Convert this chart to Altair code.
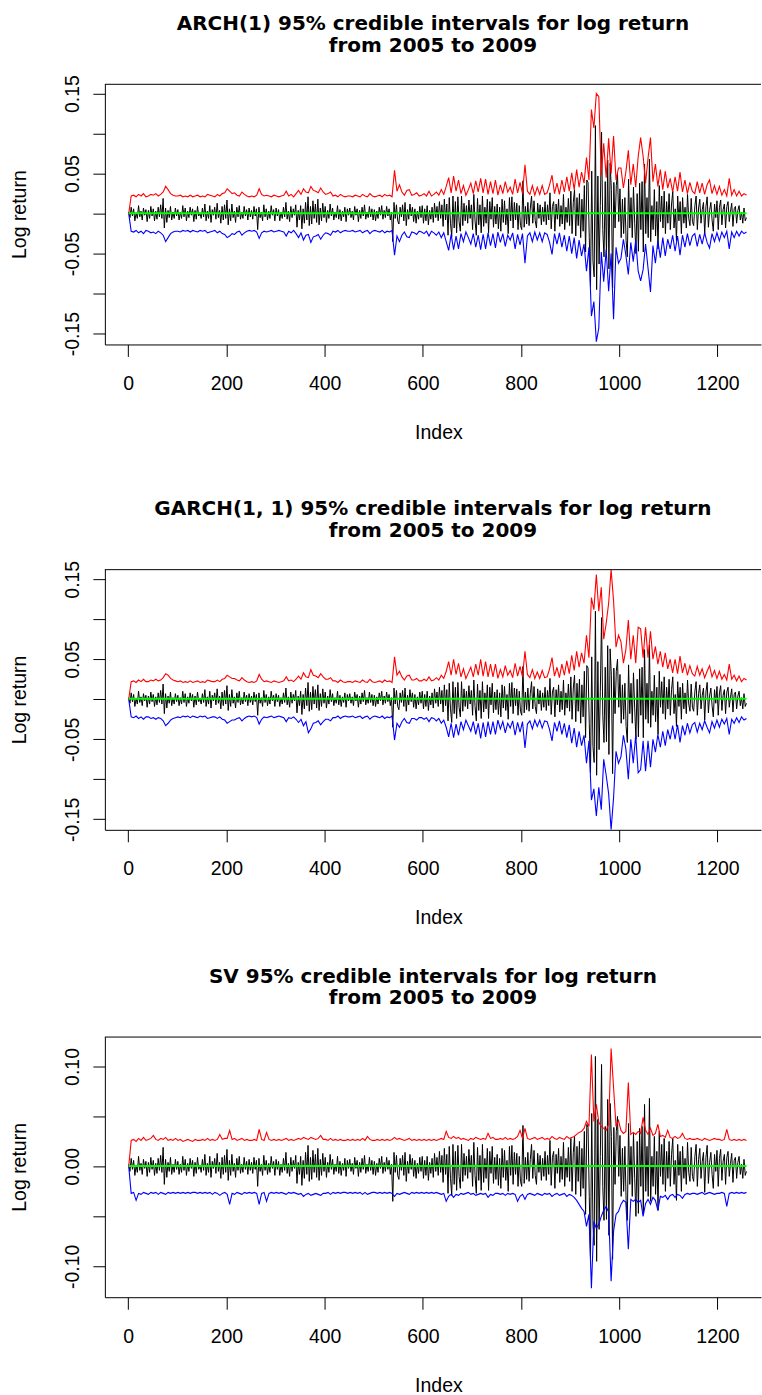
import altair as alt
import numpy as np
import pandas as pd

# Daily log return (black line), read about every 2.5 trading days, in thousandths
log_return_permille = [
    2, -5, 8, -3, 6, -9, 1, -6, 10, -4, 3, -8, 7, -2, 5, -10, 4, -6, 9, -3,
    6, -9, 3, -7, 8, -4, 11, -6, 19, -18, 7, -11, 4, -5, 9, -8, 2, -6, 7, -3,
    5, -8, 2, -6, 10, -4, 7, -9, 3, -5, 8, -2, 6, -10, 4, -7, 9, -3, 1, -6,
    7, -4, 12, -9, 3, -6, 10, -11, 5, -2, 8, -7, 13, -5, 4, -12, 9, -8, 11, -6,
    17, -14, 6, -9, 12, -5, 3, -11, 8, -4, 10, -7, 2, -6, 9, -3, 5, -8, 7, -4,
    4, -7, 9, -3, 6, -20, 8, -5, 2, -9, 11, -4, 6, -8, 3, -6, 10, -2, 5, -9,
    7, -3, 5, -9, 2, -6, 8, -4, 14, -7, 3, -10, 9, -5, 6, -2, 11, -17, 4, -8,
    10, -19, 6, -12, 14, -8, 21, -15, 9, -13, 16, -6, 12, -11, 18, -14, 7, -9, 13, -5,
    9, -11, 4, -6, 12, -3, 7, -8, 2, -5, 10, -7, 5, -9, 3, -4, 8, -10, 6, -2,
    7, -5, 3, -8, 9, -2, 6, -10, 4, -6, 8, -3, 11, -7, 2, -5, 9, -4, 6, -8,
    5, -9, 3, -6, 8, -2, 10, -7, 4, -5, 9, -3, 6, -8, 2, -35, 14, -6, 11, -9,
    -13, 8, -4, 11, -9, 14, -15, 5, -7, 12, -3, 8, -10, 6, -12, 3, -7, 9, -5, 10,
    -12, 6, -9, 10, -14, 4, -7, 8, -11, 13, -5, 9, -9, 15, -6, 11, -16, 18, -8, 12,
    -27, 20, -12, -29, 22, -18, 15, -24, 21, -10, -22, 22, -15, 13, -9, 10, -12, 17, -6, 11,
    -20, 24, -9, -27, 19, -14, 11, -24, 22, -16, 8, -12, 18, -24, 15, -7, 20, -17, 9, -13,
    12, -19, 8, -22, 18, -11, 16, -14, 6, -25, 20, -9, 21, -18, 14, -8, 13, -20, 10, -15,
    -20, 41, -17, 9, -13, 14, -15, 7, 22, -12, 16, -9, -18, 13, -6, 11, -14, 8, -10, 15,
    -14, 11, -8, 26, -19, 9, 15, -22, 12, -7, 18, -16, 10, -13, 24, -20, 8, -11, 19, -15,
    28, -25, 14, 30, -28, 20, -15, 25, -30, 18, -22, 35, -48, 42, 39, -30, -92, 53, -59, -79,
    110, -95, 47, -63, 10, 102, -20, -54, 40, -53, 67, -69, 63, 30, -93, 39, -18, 35, 50, -10,
    31, -30, 18, -25, 20, -34, -54, 43, -18, 20, -30, 33, -12, -50, 25, -47, 38, -20, 40, -48,
    62, -25, 20, -30, 68, -35, 10, -20, 30, -28, 15, -44, 35, -10, 22, -18, 28, -25, 15, -12,
    25, -20, 12, 28, -18, 6, -34, 22, -9, 15, -25, 20, -12, 8, -18, 24, -6, -15, 19, -10,
    -15, 10, 22, -20, 7, 18, -12, 5, 14, -26, 9, 21, -17, 4, 14, -8, -22, 12, -5, 16,
    -20, 8, 17, -14, 5, 12, -18, 9, 15, -10, 3, 13, -16, 6, 9, -12, 4, 10, -8, 2,
    -12, 7, -9, -5,
]

# ARCH(1) 95% interval bounds, read about every 5 trading days (thousandths)
arch_upper_permille = [
    0, 22, 23, 21, 24, 22, 25, 21, 22, 24,
    23, 25, 22, 24, 27, 34, 30, 25, 23, 22,
    22, 23, 21, 22, 21, 23, 21, 22, 23, 21,
    22, 21, 24, 23, 22, 21, 24, 22, 25, 26,
    31, 28, 25, 26, 23, 22, 27, 24, 22, 21,
    22, 21, 23, 31, 24, 22, 23, 22, 21, 23,
    22, 21, 22, 23, 28, 22, 24, 21, 25, 29,
    24, 31, 27, 26, 34, 29, 28, 26, 32, 27,
    24, 25, 27, 22, 23, 21, 24, 22, 21, 22,
    22, 21, 23, 22, 21, 24, 22, 21, 25, 22,
    21, 22, 23, 21, 24, 22, 23, 21, 54, 28,
    36, 27, 23, 29, 30, 23, 24, 26, 22, 23,
    25, 22, 28, 22, 24, 27, 23, 30, 24, 34,
    45, 26, 47, 28, 42, 25, 35, 23, 30, 38,
    25, 41, 27, 44, 26, 43, 24, 40, 25, 42,
    23, 36, 25, 40, 27, 33, 24, 43, 26, 39,
    25, 61, 28, 24, 35, 23, 33, 24, 35, 24,
    26, 36, 48, 25, 38, 24, 42, 27, 46, 28,
    51, 30, 55, 33, 52, 38, 70, 42, 130, 107,
    150, 146, 48, 88, 45, 94, 50, 97, 42, 57,
    57, 32, 52, 79, 36, 62, 33, 71, 95, 72,
    38, 69, 95, 40, 62, 34, 55, 30, 53, 32,
    44, 27, 46, 28, 52, 27, 42, 25, 39, 28,
    25, 40, 26, 38, 24, 36, 42, 25, 35, 24,
    34, 23, 30, 22, 44, 23, 30, 22, 28, 22, 25, 23,
]
arch_lower_permille = [
    0, -22, -23, -21, -24, -22, -25, -21, -22, -24,
    -23, -25, -22, -24, -27, -35, -30, -25, -23, -22,
    -22, -23, -21, -22, -21, -23, -21, -22, -23, -21,
    -22, -21, -24, -23, -22, -21, -24, -22, -25, -26,
    -30, -28, -25, -26, -23, -22, -27, -24, -22, -21,
    -22, -21, -23, -31, -24, -22, -23, -22, -21, -23,
    -22, -21, -22, -23, -28, -22, -24, -21, -25, -30,
    -24, -33, -27, -26, -36, -29, -28, -26, -32, -27,
    -24, -25, -27, -22, -23, -21, -24, -22, -21, -22,
    -22, -21, -23, -22, -21, -24, -22, -21, -25, -22,
    -21, -22, -23, -21, -24, -22, -23, -21, -52, -28,
    -35, -27, -23, -29, -30, -23, -24, -26, -22, -23,
    -25, -22, -28, -22, -24, -27, -23, -30, -24, -35,
    -46, -26, -45, -28, -44, -25, -35, -23, -30, -38,
    -25, -42, -27, -45, -26, -44, -24, -40, -25, -43,
    -23, -36, -25, -41, -27, -33, -24, -44, -26, -39,
    -25, -62, -28, -24, -35, -23, -33, -24, -35, -24,
    -26, -36, -51, -25, -38, -24, -42, -27, -47, -28,
    -50, -30, -56, -33, -53, -38, -72, -42, -128, -110,
    -160, -143, -48, -85, -45, -97, -50, -132, -42, -62,
    -56, -32, -52, -76, -36, -60, -33, -72, -84, -70,
    -38, -68, -98, -40, -62, -34, -55, -30, -53, -32,
    -44, -27, -47, -28, -52, -27, -42, -25, -40, -28,
    -25, -41, -26, -38, -24, -36, -43, -25, -35, -24,
    -34, -23, -30, -22, -44, -23, -30, -22, -28, -22, -25, -23,
]

# GARCH(1, 1) 95% interval bounds (thousandths)
garch_upper_permille = [
    0, 22, 23, 21, 24, 22, 25, 22, 22, 24,
    23, 25, 23, 24, 27, 32, 30, 26, 24, 23,
    22, 23, 21, 22, 21, 23, 21, 22, 23, 21,
    22, 21, 24, 23, 22, 22, 24, 22, 25, 26,
    30, 28, 26, 26, 24, 23, 27, 24, 22, 21,
    22, 21, 23, 31, 25, 22, 23, 22, 21, 23,
    22, 21, 22, 23, 28, 23, 24, 22, 25, 29,
    25, 33, 28, 27, 37, 30, 29, 27, 32, 28,
    25, 25, 27, 23, 23, 21, 24, 22, 21, 22,
    22, 21, 23, 22, 21, 24, 22, 21, 25, 22,
    21, 22, 23, 21, 24, 22, 23, 21, 53, 30,
    35, 28, 24, 29, 30, 24, 24, 26, 23, 23,
    25, 23, 28, 23, 24, 27, 24, 30, 26, 35,
    47, 30, 50, 31, 45, 28, 38, 26, 33, 40,
    28, 44, 30, 50, 29, 47, 28, 44, 28, 44,
    26, 37, 28, 42, 30, 36, 27, 45, 29, 41,
    28, 60, 31, 27, 37, 26, 34, 26, 36, 27,
    28, 38, 52, 29, 40, 27, 44, 30, 48, 32,
    55, 36, 60, 40, 58, 45, 80, 52, 127, 112,
    156, 110, 140, 75, 95, 120, 162, 123, 65, 80,
    72, 45, 62, 99, 50, 80, 45, 90, 88, 52,
    90, 52, 85, 50, 66, 44, 60, 40, 58, 38,
    50, 33, 50, 32, 54, 33, 45, 30, 42, 32,
    29, 41, 30, 38, 27, 35, 42, 28, 36, 26,
    35, 25, 31, 24, 44, 25, 30, 23, 29, 22, 26, 24,
]
garch_lower_permille = [
    0, -22, -23, -21, -24, -22, -25, -22, -22, -24,
    -23, -25, -23, -24, -27, -33, -30, -26, -24, -23,
    -22, -23, -21, -22, -21, -23, -21, -22, -23, -21,
    -22, -21, -24, -23, -22, -22, -24, -22, -25, -26,
    -30, -28, -26, -26, -24, -23, -27, -24, -22, -21,
    -22, -21, -23, -31, -25, -22, -23, -22, -21, -23,
    -22, -21, -22, -23, -28, -23, -24, -22, -25, -29,
    -25, -33, -28, -42, -37, -30, -29, -27, -32, -28,
    -25, -25, -27, -23, -23, -21, -24, -22, -21, -22,
    -22, -21, -23, -22, -21, -24, -22, -21, -25, -22,
    -21, -22, -23, -21, -24, -22, -23, -21, -51, -30,
    -35, -28, -24, -29, -30, -24, -24, -26, -23, -23,
    -25, -23, -28, -23, -24, -27, -24, -30, -26, -35,
    -47, -30, -48, -31, -45, -28, -38, -26, -33, -40,
    -28, -44, -30, -49, -29, -47, -28, -44, -28, -44,
    -26, -37, -28, -42, -30, -36, -27, -45, -29, -41,
    -28, -61, -31, -27, -37, -26, -34, -26, -36, -27,
    -28, -38, -52, -29, -40, -27, -44, -30, -48, -32,
    -55, -36, -60, -40, -58, -45, -80, -52, -126, -112,
    -146, -110, -138, -75, -95, -118, -163, -123, -65, -80,
    -72, -45, -62, -100, -50, -80, -45, -92, -88, -52,
    -90, -52, -85, -50, -66, -44, -60, -40, -58, -38,
    -50, -33, -50, -32, -54, -33, -45, -30, -42, -32,
    -29, -41, -30, -38, -27, -35, -42, -28, -36, -26,
    -35, -25, -31, -24, -44, -25, -30, -23, -29, -22, -26, -24,
]

# SV 95% interval bounds (thousandths)
sv_upper_permille = [
    0, 26, 27, 25, 28, 26, 29, 26, 27, 28,
    31, 27, 26, 28, 27, 29, 26, 27, 26, 28,
    26, 27, 25, 26, 27, 26, 25, 27, 26, 26,
    27, 26, 28, 26, 27, 26, 27, 32, 27, 28,
    28, 36, 27, 28, 26, 27, 28, 26, 27, 26,
    26, 27, 26, 37, 27, 26, 34, 27, 26, 27,
    26, 27, 26, 27, 28, 26, 27, 26, 27, 28,
    27, 29, 28, 27, 29, 28, 27, 28, 31, 27,
    27, 26, 28, 26, 27, 26, 27, 26, 26, 27,
    26, 27, 26, 27, 26, 28, 26, 30, 27, 26,
    26, 27, 26, 27, 26, 27, 26, 27, 29, 27,
    28, 27, 26, 27, 28, 26, 27, 26, 27, 26,
    27, 26, 27, 26, 27, 26, 27, 28, 27, 35,
    29, 28, 30, 28, 29, 27, 28, 27, 26, 28,
    27, 29, 28, 27, 28, 27, 33, 28, 29, 27,
    27, 28, 27, 29, 27, 28, 27, 28, 30, 36,
    28, 38, 28, 27, 28, 29, 27, 28, 29, 27,
    28, 27, 30, 28, 27, 29, 28, 27, 30, 28,
    29, 30, 32, 34, 35, 38, 45, 40, 112, 45,
    62, 44, 40, 38, 36, 42, 118, 79, 40, 46,
    36, 33, 35, 84, 32, 34, 32, 35, 33, 49,
    36, 32, 38, 31, 33, 42, 30, 31, 29, 36,
    29, 28, 30, 28, 29, 33, 28, 27, 28, 27,
    27, 28, 27, 26, 28, 27, 26, 27, 28, 27,
    27, 26, 27, 37, 27, 26, 27, 26, 27, 26, 27, 26,
]
sv_lower_permille = [
    0, -27, -26, -34, -27, -28, -26, -27, -28, -26,
    -27, -26, -28, -26, -27, -28, -26, -27, -26, -27,
    -26, -27, -26, -27, -26, -27, -26, -26, -27, -26,
    -27, -26, -27, -26, -28, -26, -27, -29, -27, -26,
    -28, -38, -27, -28, -26, -27, -28, -26, -27, -26,
    -27, -26, -27, -38, -27, -26, -35, -27, -26, -27,
    -26, -27, -26, -27, -28, -26, -27, -26, -27, -28,
    -27, -30, -28, -27, -29, -28, -27, -28, -29, -27,
    -27, -26, -28, -26, -27, -26, -27, -26, -26, -27,
    -26, -27, -26, -27, -26, -28, -26, -28, -27, -26,
    -26, -27, -26, -27, -26, -27, -26, -27, -30, -27,
    -28, -27, -26, -27, -28, -26, -27, -26, -27, -26,
    -27, -26, -27, -26, -27, -26, -27, -28, -27, -35,
    -30, -28, -31, -28, -29, -27, -28, -27, -26, -28,
    -27, -29, -28, -27, -28, -27, -31, -28, -29, -27,
    -27, -28, -27, -29, -27, -28, -27, -28, -35, -30,
    -28, -33, -28, -27, -28, -29, -27, -28, -29, -27,
    -28, -27, -30, -28, -27, -29, -28, -27, -30, -28,
    -29, -31, -34, -38, -42, -45, -60, -48, -122, -55,
    -62, -58, -50, -44, -40, -46, -115, -65, -48, -45,
    -38, -34, -36, -83, -33, -35, -33, -36, -34, -50,
    -37, -33, -38, -31, -34, -44, -30, -31, -29, -33,
    -29, -28, -31, -28, -29, -32, -28, -27, -28, -27,
    -27, -28, -27, -26, -28, -27, -26, -27, -28, -27,
    -27, -26, -27, -40, -27, -26, -27, -26, -27, -26, -27, -26,
]

posterior_mean = 0.0005
first_index, last_index = 1, 1259

titles = [
    "ARCH(1) 95% credible intervals for log return",
    "GARCH(1, 1) 95% credible intervals for log return",
    "SV 95% credible intervals for log return",
]
subtitle_line = "from 2005 to 2009"

ret_df = pd.DataFrame({
    "Index": np.linspace(first_index, last_index, len(log_return_permille)),
    "ret": np.array(log_return_permille) / 1000.0,
})
band_df = pd.DataFrame({
    "Index": np.linspace(first_index, last_index, len(arch_upper_permille)),
    "arch_up": np.array(arch_upper_permille) / 1000.0,
    "arch_lo": np.array(arch_lower_permille) / 1000.0,
    "garch_up": np.array(garch_upper_permille) / 1000.0,
    "garch_lo": np.array(garch_lower_permille) / 1000.0,
    "sv_up": np.array(sv_upper_permille) / 1000.0,
    "sv_lo": np.array(sv_lower_permille) / 1000.0,
})
mean_df = pd.DataFrame({"start": [first_index], "end": [last_index], "mean": [posterior_mean]})

FONT = "Liberation Sans"
TITLE_FONT = "DejaVu Sans"
W = 657
H = 261
XDOM = [-47.6, 1288.6]
LABEL_FS = 19.5


def panel(title, up_col, lo_col, ydom, yticks, shown):
    xscale = alt.Scale(domain=XDOM, nice=False, zero=False)
    yscale = alt.Scale(domain=ydom, nice=False, zero=False)
    cond = " || ".join(f"abs(datum.value - ({v})) < 1e-6" for v in shown)
    label_expr = (f"({cond}) ? (datum.value < 0 ? '-' : '') + "
                  f"format(abs(datum.value), '.2f') : ''")
    x_axis = alt.Axis(
        values=[0, 200, 400, 600, 800, 1000, 1200], format="d",
        grid=False, tickSize=12, tickColor="black", domainColor="black",
        labelFont=FONT, labelFontSize=LABEL_FS, labelColor="black",
        labelBaseline="alphabetic", labelPadding=33, labelAlign="center",
        labelFlush=False, labelOverlap=False, labelAngle=0,
        title="Index", titleFont=FONT, titleFontSize=LABEL_FS,
        titleFontWeight="normal", titleColor="black", titleAlign="center",
        titleBaseline="alphabetic", titleX=334, titleY=94,
    )
    y_axis = alt.Axis(
        values=yticks, labelExpr=label_expr, grid=False,
        tickSize=12, tickColor="black", domainColor="black",
        labelFont=FONT, labelFontSize=LABEL_FS, labelColor="black",
        labelAngle=270, labelAlign="center", labelBaseline="alphabetic",
        labelPadding=14.6, labelFlush=False, labelOverlap=False,
        title="Log return", titleFont=FONT, titleFontSize=LABEL_FS,
        titleFontWeight="normal", titleColor="black", titleAngle=270,
        titleAlign="center", titleBaseline="alphabetic",
        titleX=-79, titleY=H / 2,
    )
    X = lambda f: alt.X(f"{f}:Q", scale=xscale, axis=x_axis, title="Index")
    Y = lambda f: alt.Y(f"{f}:Q", scale=yscale, axis=y_axis, title="Log return")
    black = alt.Chart(ret_df).mark_line(color="black", strokeWidth=1.0, clip=True).encode(
        x=X("Index"), y=Y("ret"))
    red = alt.Chart(band_df).mark_line(color="#ff0000", strokeWidth=1.1, clip=True).encode(
        x=X("Index"), y=Y(up_col))
    blue = alt.Chart(band_df).mark_line(color="#0000ff", strokeWidth=1.1, clip=True).encode(
        x=X("Index"), y=Y(lo_col))
    green = alt.Chart(mean_df).mark_rule(color="#00ff00", strokeWidth=2).encode(
        x=X("start"), x2="end:Q", y=Y("mean"))
    top = alt.Chart(mean_df).mark_rule(color="black", strokeWidth=1).encode(
        x=alt.value(0), x2=alt.value(W), y=alt.value(0.5))
    tstyle = dict(font=TITLE_FONT, fontSize=20, fontWeight="bold",
                  color="black", align="center", baseline="alphabetic")
    t1 = alt.Chart(mean_df).mark_text(**tstyle).encode(
        x=alt.value(W / 2), y=alt.value(-54), text=alt.value(title))
    t2 = alt.Chart(mean_df).mark_text(**tstyle).encode(
        x=alt.value(W / 2), y=alt.value(-32.3), text=alt.value(subtitle_line))
    return alt.layer(black, red, blue, green, top, t1, t2).properties(width=W, height=H)


def spacer(h, anchor=None):
    if anchor is None:
        mark = alt.Chart(mean_df).mark_point(opacity=0).encode(
            x=alt.value(0), y=alt.value(0))
    else:
        ax, ay = anchor
        mark = alt.Chart(mean_df).mark_rule(color="white", strokeWidth=0.001).encode(
            x=alt.value(ax), x2=alt.value(ax + 1), y=alt.value(ay))
    return mark.properties(width=W, height=h)


big_ticks = [-0.15, -0.10, -0.05, 0.0, 0.05, 0.10, 0.15]
big_shown = [-0.15, -0.05, 0.05, 0.15]
sv_ticks = [-0.10, -0.05, 0.0, 0.05, 0.10]
sv_shown = [-0.10, 0.0, 0.10]

p1 = panel(titles[0], "arch_up", "arch_lo", [-0.1635, 0.1622], big_ticks, big_shown)
p2 = panel(titles[1], "garch_up", "garch_lo", [-0.1632, 0.1626], big_ticks, big_shown)
p3 = panel(titles[2], "sv_up", "sv_lo", [-0.1309, 0.1299], sv_ticks, sv_shown)

chart = alt.vconcat(
    spacer(1, anchor=(-104, -81)), p1, spacer(225), p2, spacer(207), p3,
    spacing=0, bounds="flush",
).configure_view(strokeWidth=0).properties(padding=0, background="white")

chart.save("out.html", embed_options={"renderer": "svg", "actions": False})
